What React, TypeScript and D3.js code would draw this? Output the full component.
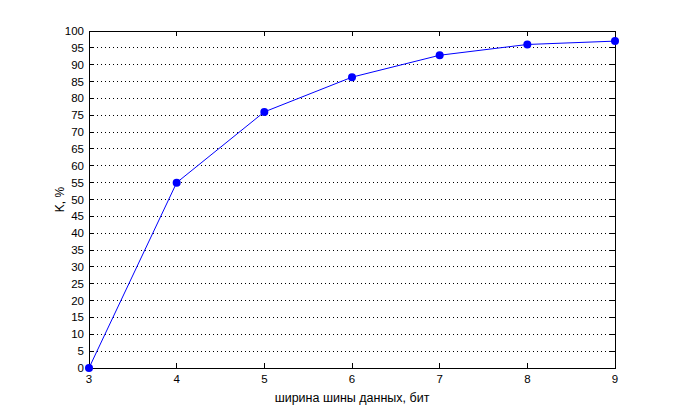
import React from "react";
import * as d3 from "d3";

const xValues = [3, 4, 5, 6, 7, 8, 9];
const yValues = [0, 55, 76, 86.3, 92.8, 96, 97];
const xTicks = [3, 4, 5, 6, 7, 8, 9];
const yTicks = d3.range(0, 101, 5);
const xLabel = "ширина шины данных, бит";
const yLabel = "K, %";

export default function App() {
  const W = 680, H = 414;
  const L = 89, R = 615, T = 31, B = 368;
  const x = d3.scaleLinear().domain([3, 9]).range([L, R]);
  const y = d3.scaleLinear().domain([0, 100]).range([B, T]);
  const line = d3.line<number>().x((_, i) => x(xValues[i])).y((d) => y(d));
  const font = "Liberation Sans, Arial, sans-serif";
  const tl = 5;
  return (
    <div style={{ margin: -8 }}>
      <svg width={W} height={H} style={{ display: "block", background: "#fff" }}>
        <rect x={0} y={0} width={W} height={H} fill="#fff" />
        {yTicks.map((t) => (
          <g key={"y" + t}>
            {t > 0 && t < 100 && (
              <line x1={L} x2={R} y1={y(t)} y2={y(t)} stroke="#000" strokeWidth={1} strokeDasharray="1,3" shapeRendering="crispEdges" />
            )}
            <line x1={L} x2={L + tl} y1={y(t)} y2={y(t)} stroke="#000" shapeRendering="crispEdges" />
            <line x1={R - tl} x2={R} y1={y(t)} y2={y(t)} stroke="#000" shapeRendering="crispEdges" />
            <text x={L - 5} y={y(t)} dy="0.35em" textAnchor="end" fontSize={11.5} fontFamily={font}>{t}</text>
          </g>
        ))}
        {xTicks.map((t) => (
          <g key={"x" + t}>
            <line x1={x(t)} x2={x(t)} y1={B} y2={B - tl} stroke="#000" shapeRendering="crispEdges" />
            <line x1={x(t)} x2={x(t)} y1={T} y2={T + tl} stroke="#000" shapeRendering="crispEdges" />
            <text x={x(t)} y={B + 15} textAnchor="middle" fontSize={11.5} fontFamily={font}>{t}</text>
          </g>
        ))}
        <rect x={L} y={T} width={R - L} height={B - T} fill="none" stroke="#000" strokeWidth={1} shapeRendering="crispEdges" />
        <path d={line(yValues) || ""} fill="none" stroke="#0000ff" strokeWidth={1} />
        {yValues.map((v, i) => (
          <circle key={i} cx={x(xValues[i])} cy={y(v)} r={4} fill="#0000ff" />
        ))}
        <text x={(L + R) / 2} y={402} textAnchor="middle" fontSize={12.5} fontFamily={font}>{xLabel}</text>
        <text transform={`translate(64,${(T + B) / 2}) rotate(-90)`} textAnchor="middle" fontSize={12} fontFamily={font}>{yLabel}</text>
      </svg>
    </div>
  );
}
